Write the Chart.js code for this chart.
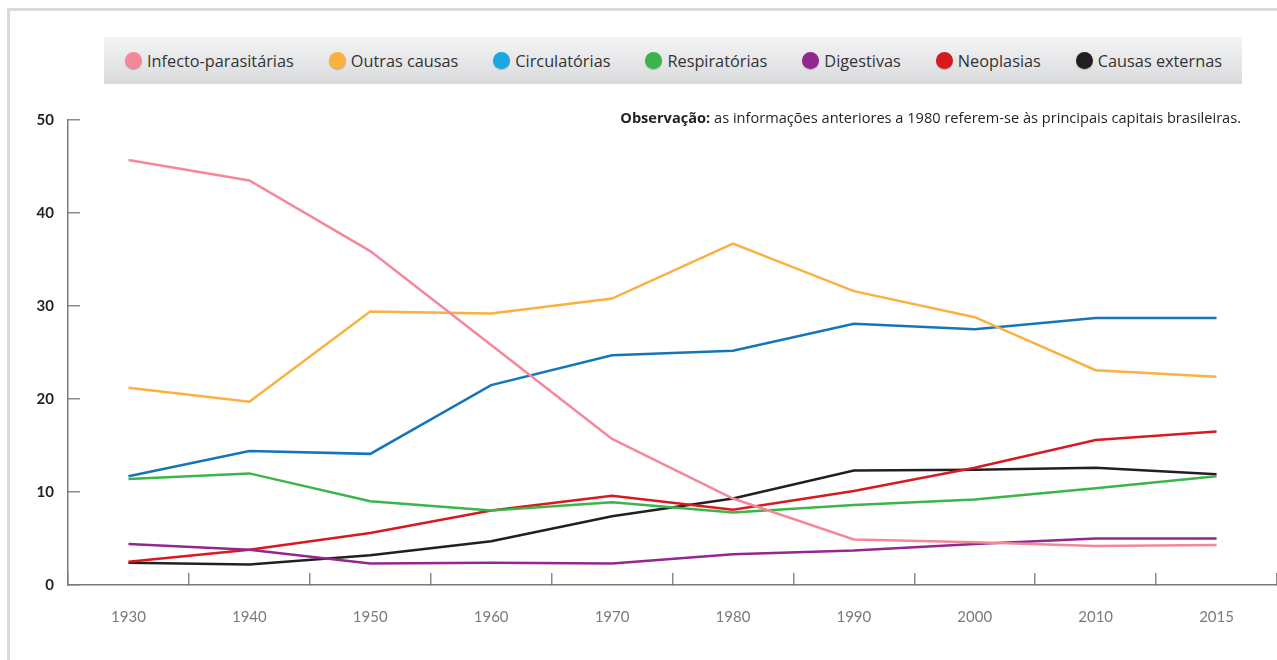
<!DOCTYPE html>
<html>
<head>
<meta charset="utf-8">
<script src="https://cdn.jsdelivr.net/npm/chart.js@4.4.0/dist/chart.umd.min.js"></script>
<style>
  html, body { margin: 0; padding: 0; background: #fff; width: 1277px; height: 660px; overflow: hidden; font-family: 'Open Sans', Lato, sans-serif; }
  #frame { position: absolute; left: 7px; top: 8px; width: 1300px; height: 700px; border-top: 3px solid #dadada; border-left: 3px solid #dadada; }
  #legend { position: absolute; left: 104px; top: 37px; width: 1138px; height: 47px; background: linear-gradient(#f4f4f5, #d9dadc);
            display: flex; align-items: center; justify-content: space-between; box-sizing: border-box; padding: 0 20px 0 21px; }
  .item { display: flex; align-items: center; font-size: 16.3px; color: #333; white-space: nowrap; }
  .dot { width: 17px; height: 17px; border-radius: 50%; margin-right: 5px; box-shadow: 0 1px 1px rgba(0,0,0,.25); }
  #note { position: absolute; right: 36px; top: 107px; font-size: 14.6px; color: #231f20; white-space: nowrap; }
  #chart { position: absolute; left: 0; top: 0; }
</style>
</head>
<body>
<div id="frame"></div>
<canvas id="chart" width="1277" height="660"></canvas>
<div id="legend"></div>
<div id="note"><b>Observação:</b> as informações anteriores a 1980 referem-se às principais capitais brasileiras.</div>
<script>
// ---- Data ----
const years = ['1930', '1940', '1950', '1960', '1970', '1980', '1990', '2000', '2010', '2015'];

const infecto      = [45.7, 43.5, 35.9, 25.8, 15.7, 9.3, 4.9, 4.6, 4.2, 4.3];
const outras       = [21.2, 19.7, 29.4, 29.2, 30.8, 36.7, 31.6, 28.8, 23.1, 22.4];
const circulat     = [11.7, 14.4, 14.1, 21.5, 24.7, 25.2, 28.1, 27.5, 28.7, 28.7];
const respirat     = [11.4, 12.0, 9.0, 8.0, 8.9, 7.8, 8.6, 9.2, 10.4, 11.7];
const digestivas   = [4.4, 3.8, 2.3, 2.4, 2.3, 3.3, 3.7, 4.4, 5.0, 5.0];
const neoplasias   = [2.5, 3.8, 5.6, 8.0, 9.6, 8.1, 10.1, 12.6, 15.6, 16.5];
const externas     = [2.4, 2.2, 3.2, 4.7, 7.4, 9.3, 12.3, 12.4, 12.6, 11.9];

const seriesNames = ['Infecto-parasitárias', 'Outras causas', 'Circulatórias', 'Respiratórias', 'Digestivas', 'Neoplasias', 'Causas externas'];
const seriesData  = [infecto, outras, circulat, respirat, digestivas, neoplasias, externas];
const lineColors  = ['#f4889a', '#fbb040', '#1575bb', '#3bb54a', '#92278f', '#d71920', '#231f20'];
const dotColors   = ['#f4889a', '#fbb040', '#1ba7e1', '#3bb54a', '#92278f', '#d71920', '#231f20'];

const yTicks = [0, 10, 20, 30, 40, 50];

// ---- Legend ----
document.getElementById('legend').innerHTML = seriesNames.map((n, i) =>
  `<div class="item"><span class="dot" style="background:${dotColors[i]}"></span>${n}</div>`
).join('');

// ---- Chart ----
const FONT = "Lato, 'Open Sans', sans-serif";
new Chart(document.getElementById('chart').getContext('2d'), {
  type: 'line',
  data: {
    labels: years,
    datasets: seriesNames.map((n, i) => ({
      label: n,
      data: seriesData[i],
      borderColor: lineColors[i],
      backgroundColor: lineColors[i],
      borderWidth: 2.5,
      pointRadius: 0,
      tension: 0,
      fill: false
    }))
  },
  options: {
    responsive: false,
    animation: false,
    layout: { padding: { top: 120, left: 0, right: 0, bottom: 0 } },
    plugins: { legend: { display: false }, tooltip: { enabled: false } },
    scales: {
      x: {
        offset: true,
        grid: { offset: true, drawOnChartArea: false, tickLength: -12, color: '#8c8c8c', lineWidth: 1.5 },
        border: { color: '#7a7a7a', width: 1.5 },
        ticks: { color: '#7a7a7a', font: { family: FONT, size: 15 }, padding: 35, maxRotation: 0 },
        afterFit: s => { s.height = 75; }
      },
      y: {
        min: 0, max: 50,
        afterBuildTicks: s => { s.ticks = yTicks.map(v => ({ value: v })); },
        grid: { drawOnChartArea: false, tickLength: -12, color: '#8c8c8c', lineWidth: 1.5 },
        border: { color: '#7a7a7a', width: 1.5 },
        ticks: { color: '#231f20', font: { family: FONT, size: 15, weight: 'bold' }, padding: 26 },
        afterFit: s => { s.width = 68; }
      }
    }
  }
});
</script>
</body>
</html>
